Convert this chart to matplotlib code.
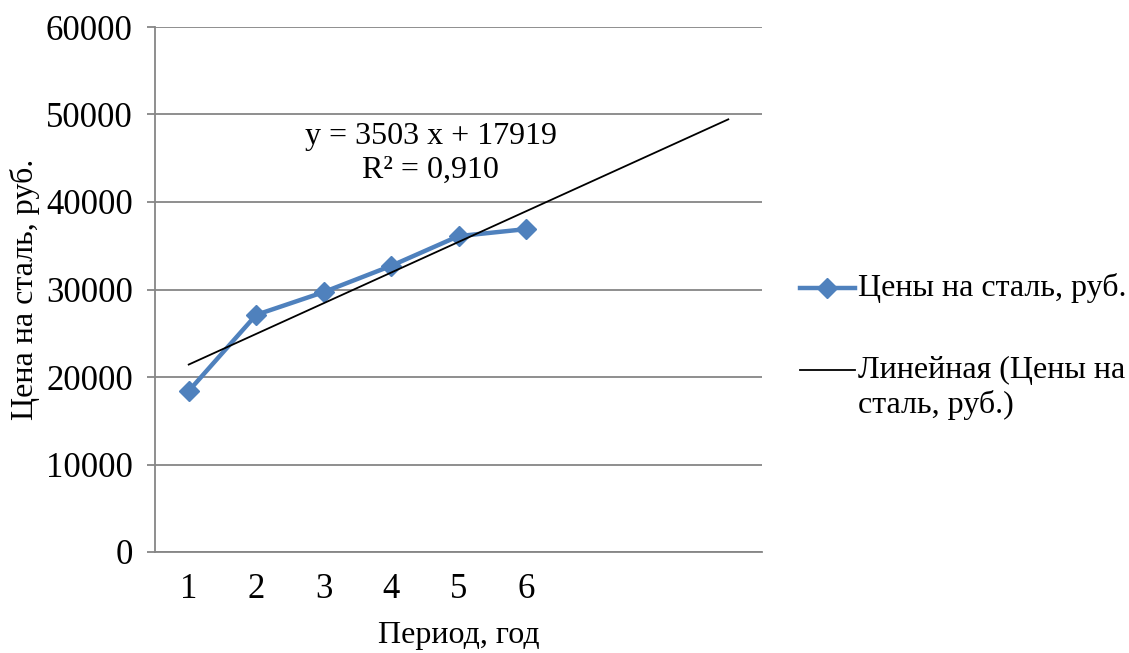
import numpy as np
import matplotlib.pyplot as plt
from matplotlib.lines import Line2D

plt.rcParams['font.family'] = ['Liberation Serif', 'DejaVu Serif']

periods = [1, 2, 3, 4, 5, 6]
prices = [18400, 27100, 29700, 32700, 36100, 36900]

# trendline as reported on the chart, forecast 3 periods forward
slope, intercept = 3503, 17919
trend_x = np.array([1, 9])

W, H = 1129, 653
fig = plt.figure(figsize=(W / 100, H / 100), dpi=100)
ax = fig.add_axes([155 / W, 1 - 552 / H, 607 / W, 525 / H])

blue = '#4F81BD'
grid_c = '#868686'
ax.plot(periods, prices, color=blue, lw=3.2, marker='D', ms=10, zorder=3)
ax.plot(trend_x, slope * trend_x + intercept, color='black', lw=1.3, zorder=4)

ax.text(4.59, 45550, 'y = 3503 x + 17919\nR² = 0,910', ha='center', va='center',
        fontsize=23, linespacing=1.25)

ax.set_xlim(0.5, 9.5)
ax.set_ylim(0, 60000)
ax.set_yticks(np.arange(0, 60001, 10000))
ax.set_xticks(periods)
ax.yaxis.grid(True, color=grid_c, lw=1.3)
ax.set_axisbelow(True)
for s in ['top', 'right']:
    ax.spines[s].set_visible(False)
for s in ['left', 'bottom']:
    ax.spines[s].set_color(grid_c)
    ax.spines[s].set_linewidth(1.3)
ax.tick_params(axis='y', length=6, color=grid_c, width=1.3, labelsize=25, pad=10)
ax.tick_params(axis='x', length=0, labelsize=25, pad=15)

ax.set_xlabel('Период, год', fontsize=23, va='center')
ax.xaxis.set_label_coords(0.5, (552 - 636) / 525)
ax.set_ylabel('Цена на сталь, руб.', fontsize=23, va='center')
ax.yaxis.set_label_coords((25 - 155) / 607, 0.5)

# legend drawn by hand to keep the Excel layout
def fx(px):
    return px / W

def fy(py):
    return 1 - py / H

fig.add_artist(Line2D([fx(800), fx(855)], [fy(288), fy(288)], color=blue, lw=3.2,
                      transform=fig.transFigure))
fig.add_artist(Line2D([fx(827)], [fy(288)], color=blue, marker='D', ms=10,
                      transform=fig.transFigure))
fig.text(fx(858), fy(288), 'Цены на сталь, руб.', fontsize=23, va='center')
fig.add_artist(Line2D([fx(800), fx(855)], [fy(370), fy(370)], color='black', lw=1.3,
                      transform=fig.transFigure))
fig.text(fx(858), fy(370), 'Линейная (Цены на', fontsize=23, va='center')
fig.text(fx(858), fy(405), 'сталь, руб.)', fontsize=23, va='center')

fig.savefig('out.png', dpi=100)
